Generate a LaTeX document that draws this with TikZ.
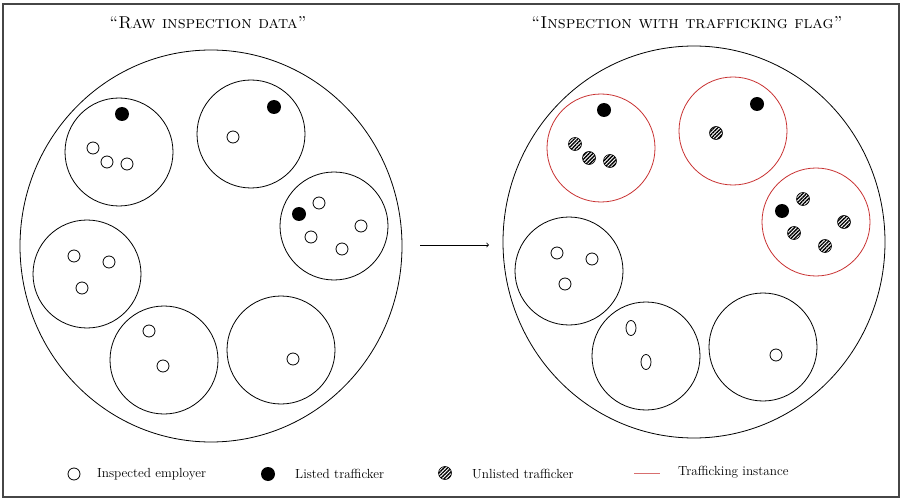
\documentclass[tikz,border=0pt]{standalone}
\usetikzlibrary{patterns.meta}
\definecolor{flagred}{RGB}{200,50,50}
\definecolor{framegray}{RGB}{70,70,70}
\tikzset{
  group/.style={draw=black, line width=0.8pt},
  flagged/.style={draw=flagred, line width=0.8pt},
  employer/.style={draw=black, line width=0.8pt, fill=white},
  listed/.style={fill=black},
  unlisted/.style={draw=black, line width=0.6pt,
    pattern={Lines[angle=45,distance=2.6pt,line width=1.4pt]}},
  title/.style={font=\fontsize{17.2}{19}\selectfont\scshape},
  legendtext/.style={font=\fontsize{13.2}{15}\selectfont, anchor=west, inner sep=0pt},
}
\begin{document}
\begin{tikzpicture}[x=1pt,y=-1pt]
\useasboundingbox (0,0) rectangle (903,500);
\draw[framegray, line width=1.2pt] (3,4) rectangle (899,497);

% titles
\node[title] (t1) at (208,23) {``Raw inspection data''};
\node[title] (t2) at (687,23) {``Inspection with trafficking flag''};

% ---------- raw inspection data ----------
\draw[group] (211,246) circle[x radius=191, y radius=196];
\draw[group] (119,152) circle[radius=54];
\draw[group] (251,134) circle[radius=54];
\draw[group] (334,226) circle[radius=54];
\draw[group] (87,274) circle[radius=54];
\draw[group] (164,360) circle[radius=54];
\draw[group] (281,350) circle[radius=54];

\fill[listed] (122,114) circle[radius=7];
\draw[employer] (93,148) circle[radius=6];
\draw[employer] (107,162) circle[radius=6];
\draw[employer] (127,164) circle[radius=6];

\fill[listed] (274,107) circle[radius=7];
\draw[employer] (233,137) circle[radius=6];

\fill[listed] (299,214) circle[radius=7];
\draw[employer] (319,203) circle[radius=6];
\draw[employer] (361,226) circle[radius=6];
\draw[employer] (311,237) circle[radius=6];
\draw[employer] (342,249) circle[radius=6];

\draw[employer] (74,256) circle[radius=6];
\draw[employer] (109,262) circle[radius=6];
\draw[employer] (82,288) circle[radius=6];

\draw[employer] (149,331) circle[radius=6];
\draw[employer] (163,366) circle[radius=6];

\draw[employer] (293,359) circle[radius=6];

% transition arrow
\coordinate (a1) at (420,245);
\coordinate (a2) at (489,245);
\draw[line width=0.8pt, ->] (a1) -- (a2);

% ---------- inspection with trafficking flag ----------
\draw[group] (694,242) circle[x radius=191, y radius=196];
\draw[flagged] (601,148) circle[radius=54];
\draw[flagged] (733,131) circle[radius=54];
\draw[flagged] (816,222) circle[radius=54];
\draw[group] (569,271) circle[radius=54];
\draw[group] (646,356) circle[radius=54];
\draw[group] (763,347) circle[radius=54];

\fill[listed] (604,110) circle[radius=7];
\draw[unlisted] (575,144) circle[radius=6.5];
\draw[unlisted] (589,158) circle[radius=6.5];
\draw[unlisted] (610,161) circle[radius=6.5];

\fill[listed] (757,104) circle[radius=7];
\draw[unlisted] (716,133) circle[radius=6.5];

\fill[listed] (782,211) circle[radius=7];
\draw[unlisted] (803,199) circle[radius=6.5];
\draw[unlisted] (844,222) circle[radius=6.5];
\draw[unlisted] (794,233) circle[radius=6.5];
\draw[unlisted] (825,246) circle[radius=6.5];

\draw[employer] (557,253) circle[radius=6];
\draw[employer] (592,259) circle[radius=6];
\draw[employer] (565,284) circle[radius=6];

\draw[employer] (631,328) circle[x radius=5, y radius=7.5];
\draw[employer] (646,362) circle[x radius=5, y radius=7.5];

\draw[employer] (776,355) circle[radius=6];

% ---------- legend ----------
\draw[employer] (74,474) circle[radius=6];
\node[legendtext] (l1) at (97,474) {Inspected employer};
\fill[listed] (268,474) circle[radius=7];
\node[legendtext] (l2) at (295,474) {Listed trafficker};
\draw[unlisted] (445,473) circle[radius=6.5];
\node[legendtext] (l3) at (472,474) {Unlisted trafficker};
\coordinate (r1) at (634,473);
\coordinate (r2) at (660,473);
\draw[flagred!70, line width=0.8pt] (r1) -- (r2);
\node[legendtext] (l4) at (678,472) {Trafficking instance};
\end{tikzpicture}
\end{document}
